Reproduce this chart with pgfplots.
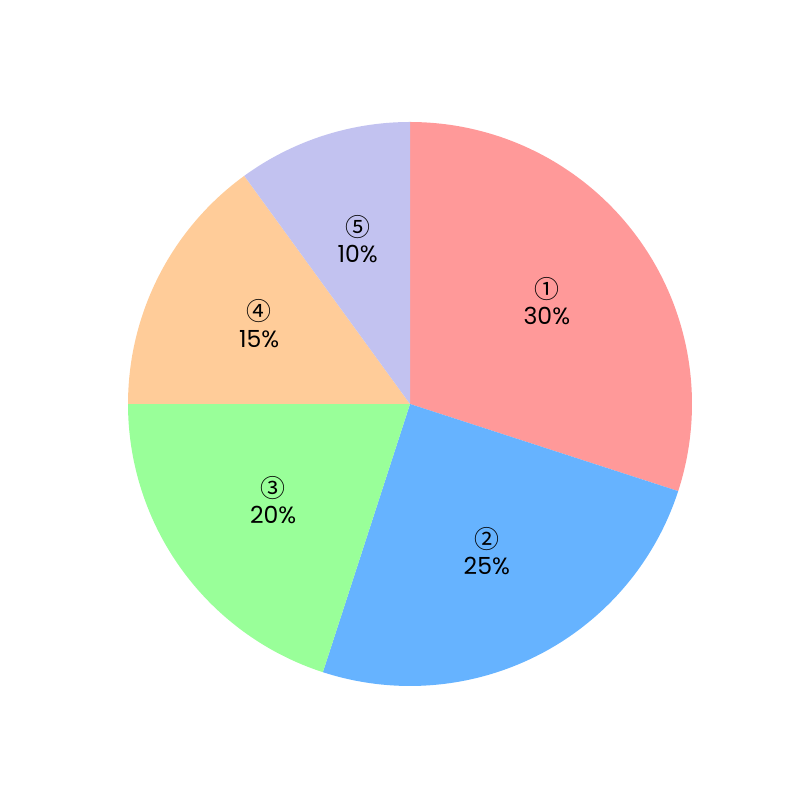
\documentclass[border=0pt]{standalone}
\usepackage{fontspec}
\setmainfont{Poppins}
\newfontfamily\symfont{Noto Sans CJK JP}
\usepackage{pgfplots}
\pgfplotsset{compat=1.18}
\definecolor{pieA}{HTML}{FF9999}
\definecolor{pieB}{HTML}{66B3FF}
\definecolor{pieC}{HTML}{99FF99}
\definecolor{pieD}{HTML}{FFCC99}
\definecolor{pieE}{HTML}{C2C2F0}
\newcommand\circnum[1]{{\symfont\fontsize{18}{18}\selectfont\char\numexpr"245F+#1\relax}}

\begin{document}
\begin{tikzpicture}
\begin{axis}[
  name=ax,
  hide axis,
  scale only axis,
  width=8in, height=8in,
  xmin=-1.4539, xmax=1.3830,
  ymin=-1.4043, ymax=1.4326,
  clip=false
]
\xdef\astart{90}
% share (percent) / colour / number
\foreach \p/\c/\n in {30/pieA/1,25/pieB/2,20/pieC/3,15/pieD/4,10/pieE/5} {
  \pgfmathsetmacro\aend{\astart-3.6*\p}
  \pgfmathsetmacro\amid{(\astart+\aend)/2}
  \pgfmathsetmacro\lx{0.6*cos(\amid)}
  \pgfmathsetmacro\ly{0.6*sin(\amid)+0.013}
  \pgfmathtruncatemacro\pint{\p}
  \edef\cmd{%
    \noexpand\addplot[fill=\c, draw=none, domain=\aend:\astart, samples=120]
      ({cos(x)},{sin(x)}) -- (axis cs:0,0) -- cycle;
    \noexpand\node[align=center, font=\noexpand\fontsize{17}{19}\noexpand\selectfont, inner sep=0pt]
      at (axis cs:\lx,\ly) {\noexpand\circnum{\n}\noexpand\\\pint\noexpand\%};
  }
  \cmd
  \xdef\astart{\aend}
}
\end{axis}
\pgfresetboundingbox
\path (ax.south west) rectangle (ax.north east);
\end{tikzpicture}
\end{document}
